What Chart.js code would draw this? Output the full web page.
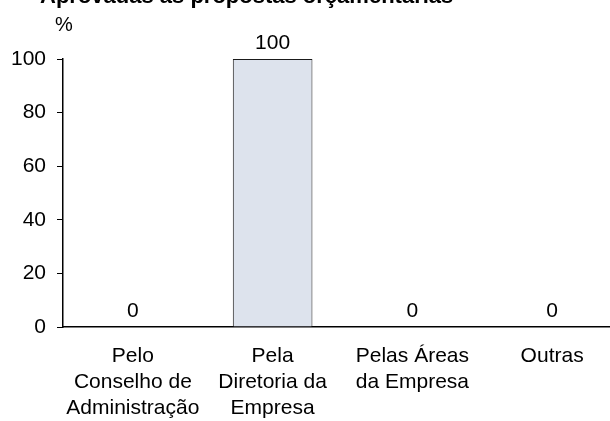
<!DOCTYPE html>
<html>
<head>
<meta charset="utf-8">
<script src="https://cdn.jsdelivr.net/npm/chart.js@4/dist/chart.umd.min.js"></script>
<style>
  html,body{margin:0;padding:0;background:#fff;overflow:hidden;}
  #wrap{width:610px;height:421px;overflow:hidden;position:relative;}
  #grafico{position:absolute;left:0;top:0;}
</style>
</head>
<body>
<div id="wrap"><canvas id="grafico" width="622" height="421"></canvas></div>
<script>
const TITULO = "Aprovadas as propostas orçamentárias";
const UNIDADE = "%";

const CATEGORIAS = [
  ["Pelo","Conselho de","Administração"],
  ["Pela","Diretoria da","Empresa"],
  ["Pelas Áreas","da Empresa"],
  ["Outras"]
];
const VALORES = [0, 100, 0, 0];
const Y_TICKS = [0, 20, 40, 60, 80, 100];

const FONTE = "'Liberation Sans', Arial, sans-serif";

/* titulo (cortado no topo), unidade e rotulos das barras */
const textos = {
  id:"textos",
  afterDatasetsDraw(chart){
    const ctx = chart.ctx;
    const area = chart.chartArea;
    ctx.save();
    ctx.fillStyle = "#000";

    ctx.font = "bold 22px " + FONTE;
    ctx.textAlign = "left";
    ctx.textBaseline = "alphabetic";
    ctx.fillText(TITULO, 40, 3);

    ctx.font = "20px " + FONTE;
    ctx.textAlign = "center";
    ctx.fillText(UNIDADE, area.left + 1, 31);

    ctx.font = "21px " + FONTE;
    ctx.textBaseline = "bottom";
    const meta = chart.getDatasetMeta(0);
    meta.data.forEach((bar, i) => {
      ctx.fillText(String(VALORES[i]), bar.x, bar.y - 5);
    });
    ctx.restore();
  }
};

new Chart(document.getElementById("grafico"), {
  type:"bar",
  data:{
    labels:CATEGORIAS,
    datasets:[{
      data:VALORES,
      backgroundColor:"#dde3ed",
      borderColor:"#1a1a1a",
      borderWidth:1,
      barPercentage:0.57,
      categoryPercentage:1
    }]
  },
  options:{
    responsive:false,
    animation:false,
    layout:{padding:{top:59, right:0, left:0, bottom:0}},
    plugins:{legend:{display:false}, tooltip:{enabled:false}, title:{display:false}},
    scales:{
      x:{
        grid:{display:false},
        border:{display:true, color:"#000", width:1.5},
        ticks:{color:"#000", font:{family:FONTE, size:21, lineHeight:1.25}, padding:8, maxRotation:0, autoSkip:false},
        afterFit(axis){ axis.height = 94; }
      },
      y:{
        min:0, max:100,
        afterBuildTicks(axis){ axis.ticks = Y_TICKS.map(v => ({value:v})); },
        grid:{display:true, drawOnChartArea:false, drawTicks:true, tickLength:6, color:"#000", lineWidth:1},
        border:{display:true, color:"#000", width:1.5},
        ticks:{color:"#000", font:{family:FONTE, size:21}, padding:11},
        afterFit(axis){ axis.width = 63; }
      }
    }
  },
  plugins:[textos]
});
</script>
</body>
</html>
